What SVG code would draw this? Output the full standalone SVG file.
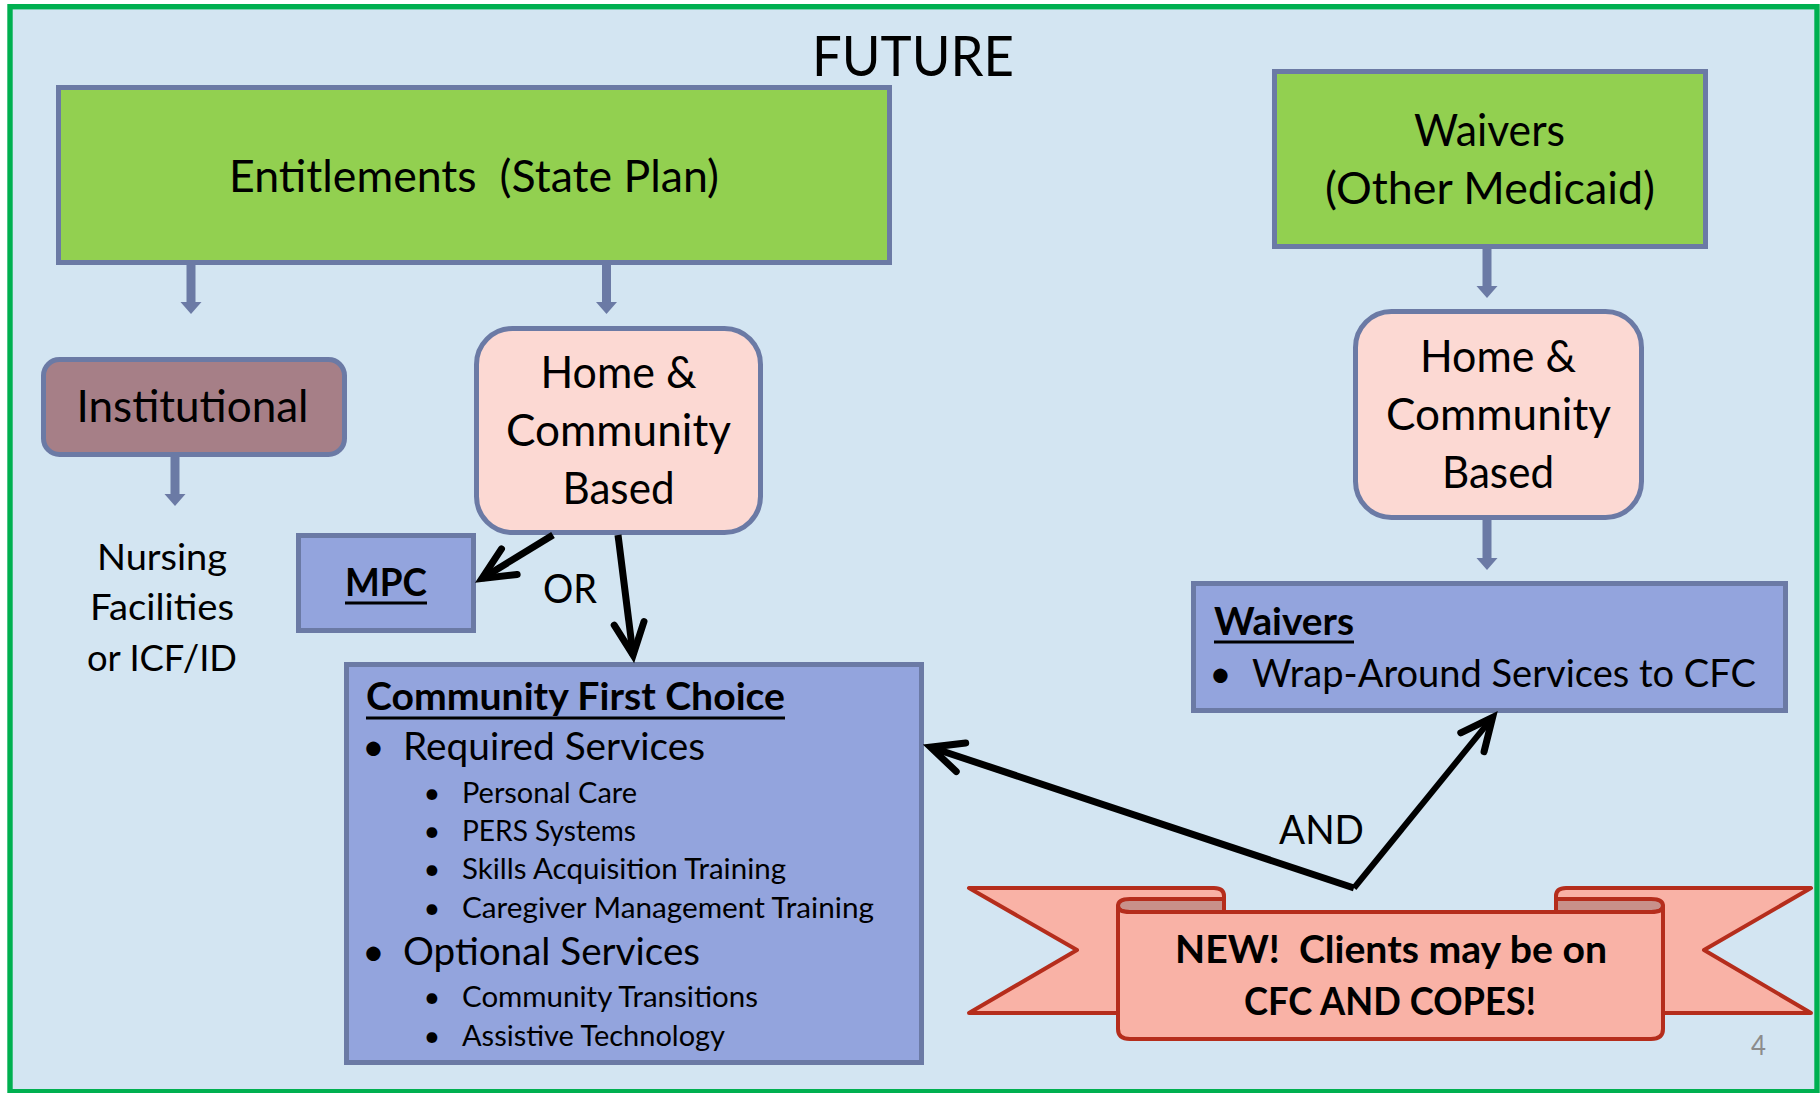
<svg xmlns="http://www.w3.org/2000/svg" width="1820" height="1093" viewBox="0 0 1820 1093">
<style>
  text { font-family: Lato, "Open Sans", "Liberation Sans", sans-serif; fill: #000; }
  .b { font-weight: 700; }
  .pre { white-space: pre; }
  .box { stroke: #6B7AA5; stroke-width: 5; }
  .green { fill: #92D050; }
  .pink { fill: #FCD9D3; }
  .peri { fill: #93A4DD; }
  .mauve { fill: #A67F87; }
  .big { font-size: 44px; }
  .mid { font-size: 38.5px; }
  .small { font-size: 29px; }
  .note { font-size: 37.5px; }
  .flow { stroke: #6B7AA5; stroke-width: 9; fill: none; }
  .link { stroke: #000; stroke-width: 7; fill: none; stroke-linejoin: miter; }
  .ul { stroke: #000; stroke-width: 3; }
  .rib { fill: #F9B2A6; stroke: #B52D1C; stroke-width: 4; stroke-linejoin: round; }
  .fold { fill: #C8918A; stroke: #B52D1C; stroke-width: 4; stroke-linejoin: round; }
</style>
<defs>
  <!-- solid triangular head for the slate flow arrows -->
  <marker id="tri" markerUnits="userSpaceOnUse" markerWidth="14" markerHeight="24" viewBox="0 -12 14 24" refX="0" refY="0" orient="auto">
    <path d="M0,-10.5 L12,0 L0,10.5 Z" fill="#6B7AA5"/>
  </marker>
  <!-- open V head for the black choice arrows -->
  <marker id="open" markerUnits="userSpaceOnUse" markerWidth="60" markerHeight="60" viewBox="-40 -30 60 60" refX="0" refY="0" orient="auto-start-reverse" overflow="visible">
    <path d="M-32,-15 L0,0 L-32,15" fill="none" stroke="#000" stroke-width="7" stroke-linecap="round" stroke-linejoin="miter"/>
  </marker>
</defs>

<!-- slide background and frame -->
<rect width="1820" height="1093" fill="#FFFFFF"/>
<rect x="10" y="6.7" width="1807" height="1085" fill="#D3E5F2" stroke="#00B050" stroke-width="5.4"/>

<text id="title" x="812" y="76" font-size="57" textLength="202" lengthAdjust="spacingAndGlyphs">FUTURE</text>

<g id="entitlements">
  <rect class="box green" x="58.5" y="87.5" width="831" height="175"/>
  <text class="big pre" x="229" y="192" textLength="490" lengthAdjust="spacingAndGlyphs">Entitlements  (State Plan)</text>
</g>

<g id="waivers-medicaid">
  <rect class="box green" x="1274.5" y="71.5" width="431" height="175"/>
  <text class="big" x="1414" y="146" textLength="151" lengthAdjust="spacingAndGlyphs">Waivers</text>
  <text class="big" x="1325" y="204" textLength="330" lengthAdjust="spacingAndGlyphs">(Other Medicaid)</text>
</g>

<g id="institutional">
  <rect class="box mauve" x="43.5" y="359.5" width="301" height="95" rx="16" ry="16"/>
  <text class="big" x="76.5" y="422" textLength="232" lengthAdjust="spacingAndGlyphs">Institutional</text>
</g>

<g id="nursing">
  <text class="note" x="97" y="570" textLength="130" lengthAdjust="spacingAndGlyphs">Nursing</text>
  <text class="note" x="90" y="620" textLength="144" lengthAdjust="spacingAndGlyphs">Facilities</text>
  <text class="note" x="87" y="671" textLength="150" lengthAdjust="spacingAndGlyphs">or ICF/ID</text>
</g>

<g id="hcb-state-plan">
  <rect class="box pink" x="476.5" y="328.5" width="284" height="204" rx="36" ry="36"/>
  <text class="big" x="540.5" y="388" textLength="156" lengthAdjust="spacingAndGlyphs">Home &amp;</text>
  <text class="big" x="506" y="446" textLength="225" lengthAdjust="spacingAndGlyphs">Community</text>
  <text class="big" x="562.5" y="504" textLength="112" lengthAdjust="spacingAndGlyphs">Based</text>
</g>

<g id="hcb-waivers">
  <rect class="box pink" x="1355.5" y="311.5" width="286" height="206" rx="36" ry="36"/>
  <text class="big" x="1420" y="372" textLength="156" lengthAdjust="spacingAndGlyphs">Home &amp;</text>
  <text class="big" x="1386" y="430" textLength="225" lengthAdjust="spacingAndGlyphs">Community</text>
  <text class="big" x="1442" y="488" textLength="112" lengthAdjust="spacingAndGlyphs">Based</text>
</g>

<g id="mpc">
  <rect class="box peri" x="298.5" y="535.5" width="175" height="95"/>
  <text class="mid b" x="345" y="596" textLength="82" lengthAdjust="spacingAndGlyphs">MPC</text>
  <line class="ul" x1="345" y1="603" x2="427" y2="603"/>
</g>

<g id="cfc">
  <rect class="box peri" x="346.5" y="664.5" width="575" height="398"/>
  <text class="mid b" x="366" y="710" textLength="419" lengthAdjust="spacingAndGlyphs">Community First Choice</text>
  <line class="ul" x1="366" y1="718" x2="785" y2="718"/>
  <text class="mid" x="373.5" y="760" text-anchor="middle">•</text>
  <text class="mid" x="403" y="760" textLength="302" lengthAdjust="spacingAndGlyphs">Required Services</text>
  <text class="small" x="432" y="803" text-anchor="middle">•</text>
  <text class="small" x="462" y="803" textLength="175" lengthAdjust="spacingAndGlyphs">Personal Care</text>
  <text class="small" x="432" y="841" text-anchor="middle">•</text>
  <text class="small" x="462" y="841" textLength="174" lengthAdjust="spacingAndGlyphs">PERS Systems</text>
  <text class="small" x="432" y="879" text-anchor="middle">•</text>
  <text class="small" x="462" y="879" textLength="324" lengthAdjust="spacingAndGlyphs">Skills Acquisition Training</text>
  <text class="small" x="432" y="918" text-anchor="middle">•</text>
  <text class="small" x="462" y="918" textLength="412" lengthAdjust="spacingAndGlyphs">Caregiver Management Training</text>
  <text class="mid" x="373.5" y="965" text-anchor="middle">•</text>
  <text class="mid" x="403" y="965" textLength="297" lengthAdjust="spacingAndGlyphs">Optional Services</text>
  <text class="small" x="432" y="1007" text-anchor="middle">•</text>
  <text class="small" x="462" y="1007" textLength="296" lengthAdjust="spacingAndGlyphs">Community Transitions</text>
  <text class="small" x="432" y="1046" text-anchor="middle">•</text>
  <text class="small" x="462" y="1046" textLength="263" lengthAdjust="spacingAndGlyphs">Assistive Technology</text>
</g>

<g id="waivers-wrap">
  <rect class="box peri" x="1193.5" y="583.5" width="592" height="127"/>
  <text class="mid b" x="1214" y="635" textLength="140" lengthAdjust="spacingAndGlyphs">Waivers</text>
  <line class="ul" x1="1214" y1="642" x2="1354" y2="642"/>
  <text class="mid" x="1220.5" y="687" text-anchor="middle">•</text>
  <text class="mid" x="1252" y="687" textLength="504" lengthAdjust="spacingAndGlyphs">Wrap-Around Services to CFC</text>
</g>

<g id="banner">
  <path class="rib" d="M1118,1013 L969,1013 L1077,950 L969,888 L1214,888 Q1224,888 1224,896 L1224,912 L1118,912 Z"/>
  <path class="rib" d="M1663,1013 L1811,1013 L1704,950 L1811,888 L1566,888 Q1556,888 1556,896 L1556,912 L1663,912 Z"/>
  <path class="fold" d="M1118,906 Q1118,899 1130,899 L1224,899 L1224,912 L1130,912 Q1118,912 1118,906 Z"/>
  <path class="fold" d="M1663,906 Q1663,899 1651,899 L1556,899 L1556,912 L1651,912 Q1663,912 1663,906 Z"/>
  <path class="rib" d="M1118,906 L1118,1029 Q1118,1039 1130,1039 L1651,1039 Q1663,1039 1663,1029 L1663,906 Q1663,912 1651,912 L1130,912 Q1118,912 1118,906 Z"/>
  <text class="mid b pre" x="1175" y="963" textLength="432" lengthAdjust="spacingAndGlyphs">NEW!  Clients may be on</text>
  <text class="mid b" x="1244" y="1015" textLength="292" lengthAdjust="spacingAndGlyphs">CFC AND COPES!</text>
</g>

<g id="connectors">
  <path class="flow" d="M191,265 V302" marker-end="url(#tri)"/>
  <path class="flow" d="M606.5,265 V302" marker-end="url(#tri)"/>
  <path class="flow" d="M175,457 V494" marker-end="url(#tri)"/>
  <path class="flow" d="M1487,249 V286" marker-end="url(#tri)"/>
  <path class="flow" d="M1487,520 V558" marker-end="url(#tri)"/>
  <path class="link" d="M553,535 L482,578.4" marker-end="url(#open)"/>
  <path class="link" d="M618,535 L633.1,655.1" marker-end="url(#open)"/>
  <path class="link" d="M930.6,747.2 L1354,888" marker-start="url(#open)"/>
  <path class="link" style="stroke-width:6" d="M1354,888 L1492.6,717.4" marker-end="url(#open)"/>
  <text x="543" y="603" font-size="40" textLength="54" lengthAdjust="spacingAndGlyphs">OR</text>
  <text x="1279" y="844" font-size="41" textLength="85" lengthAdjust="spacingAndGlyphs">AND</text>
</g>

<text id="page-number" x="1751" y="1055" font-size="27" style="fill:#8C8C8C" textLength="15" lengthAdjust="spacingAndGlyphs">4</text>
</svg>
